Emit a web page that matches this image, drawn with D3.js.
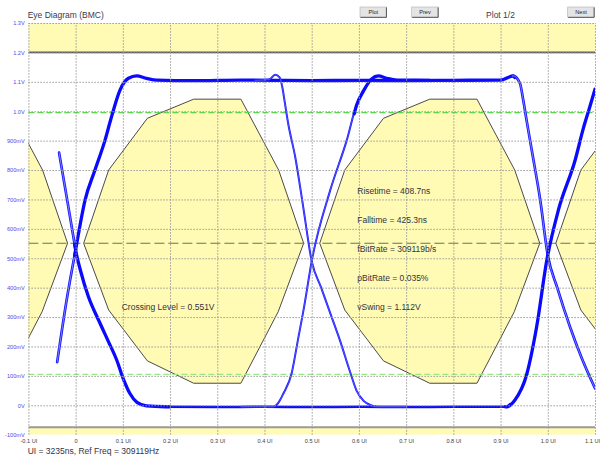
<!DOCTYPE html>
<html><head><meta charset="utf-8">
<script src="https://cdn.jsdelivr.net/npm/d3@7"></script>
<style>
html,body{margin:0;padding:0;background:#fff;}
svg{display:block;font-family:"Liberation Sans",Arial,sans-serif;}
</style></head>
<body><svg id="c" width="600" height="457"></svg>
<script>
// ---------- data ----------
const xTickValues = [-0.1,0,0.1,0.2,0.3,0.4,0.5,0.6,0.7,0.8,0.9,1.0,1.1];
const xTickLabels = ["-0.1 UI","0","0.1 UI","0.2 UI","0.3 UI","0.4 UI","0.5 UI","0.6 UI","0.7 UI","0.8 UI","0.9 UI","1.0 UI","1.1 UI"];
const yTickValues = [1.3,1.2,1.1,1.0,0.9,0.8,0.7,0.6,0.5,0.4,0.3,0.2,0.1,0,-0.1];
const yTickLabels = ["1.3V","1.2V","1.1V","1.0V","900mV","800mV","700mV","600mV","500mV","400mV","300mV","200mV","100mV","0V","-100mV"];

// eye mask template (UI offset within one half-UI eye, volts)
const eyeMaskTemplate = [[0.017,0.551],[0.070,0.80],[0.152,0.976],[0.25,1.041],[0.35,1.041],[0.43,0.80],[0.483,0.551],
                         [0.429,0.318],[0.35,0.075],[0.25,0.075],[0.152,0.151],[0.070,0.324]];
const eyeMaskOffsets = [-0.5, 0, 0.5, 1.0];
const upperLimitBand = [1.2, 1.3];
const lowerLimitBand = [-0.1, -0.075];
const level90 = 0.995;
const level10 = 0.105;
const crossingLevel = 0.551;

// waveform traces [UI, V]
const riseAt0 = [[-0.039,0.147],[-0.019,0.358],[0,0.528],[0.02,0.698],[0.041,0.80],[0.062,0.90],[0.075,0.975],[0.094,1.072],
  [0.112,1.112],[0.129,1.12],[0.15,1.112],[0.172,1.106],[0.25,1.104],[0.35,1.106],[0.42,1.105],[0.5,1.104],[0.6,1.105],
  [0.7,1.104],[0.8,1.105],[0.9,1.106],[0.927,1.12],[0.941,1.095],[0.948,1.038],[0.955,0.97],[0.966,0.868],[0.984,0.698],
  [1.0,0.51],[1.02,0.40],[1.047,0.267],[1.072,0.16],[1.1,0.058]];
const fallAt0 = [[-0.035,0.859],[-0.017,0.69],[0,0.528],[0.01,0.46],[0.027,0.37],[0.05,0.285],[0.07,0.215],[0.087,0.154],
  [0.101,0.09],[0.115,0.04],[0.13,0.01],[0.15,-0.002],[0.19,-0.005],[0.3,-0.006],[0.4,-0.005],[0.5,-0.006],[0.6,-0.005],
  [0.7,-0.006],[0.8,-0.005],[0.913,-0.005],[0.9305,0.018],[0.955,0.103],[0.9764,0.267],[0.998,0.494],[1.0225,0.664],
  [1.058,0.834],[1.075,0.94],[1.09,1.02],[1.1,1.075]];
const fallAt05 = [[0.38,1.105],[0.41,1.108],[0.4226,1.124],[0.432,1.115],[0.438,1.08],[0.443,1.03],[0.45,0.96],[0.465,0.845],
  [0.482,0.675],[0.5,0.49],[0.52,0.40],[0.54,0.31],[0.56,0.22],[0.58,0.12],[0.595,0.05],[0.61,0.015],[0.625,0.0],[0.64,-0.005],[0.7,-0.005]];
const riseAt05 = [[0.35,-0.005],[0.4186,-0.005],[0.43,0.01],[0.44,0.04],[0.4576,0.109],[0.47,0.215],[0.485,0.345],[0.5,0.49],
  [0.539,0.73],[0.574,0.90],[0.595,1.02],[0.61,1.07],[0.627,1.11],[0.641,1.12],[0.659,1.112],[0.68,1.106],[0.75,1.105]];

const statsText = ["Risetime = 408.7ns","Falltime = 425.3ns","fBitRate = 309119b/s","pBitRate = 0.035%","vSwing = 1.112V"];
const crossingText = "Crossing Level = 0.551V";
const titleText = "Eye Diagram (BMC)";
const pageText = "Plot 1/2";
const footerText = "UI = 3235ns, Ref Freq = 309119Hz";
const buttonLabels = ["Plot","Prev","Next"];

// ---------- drawing ----------
const svg = d3.select("#c");
const X0 = 28.4, X1 = 595, Y0 = 23, Y1 = 434.7;
const x = d3.scaleLinear().domain([-0.1,1.1]).range([X0,X1]);
const y = d3.scaleLinear().domain([-0.1,1.3]).range([Y1,Y0]);
const YELLOW = "#fffab4";

svg.append("defs").append("clipPath").attr("id","pc")
  .append("rect").attr("x",X0).attr("y",Y0).attr("width",X1-X0).attr("height",Y1-Y0);
const plot = svg.append("g").attr("clip-path","url(#pc)");

// limit bands
plot.append("rect").attr("x",X0).attr("width",X1-X0)
  .attr("y",y(upperLimitBand[1])).attr("height",y(upperLimitBand[0])-y(upperLimitBand[1])).attr("fill",YELLOW);
plot.append("rect").attr("x",X0).attr("width",X1-X0)
  .attr("y",y(lowerLimitBand[1])).attr("height",y(lowerLimitBand[0])-y(lowerLimitBand[1])).attr("fill",YELLOW);

// eye masks
const maskLine = d3.line().x(d=>x(d[0])).y(d=>y(d[1])).curve(d3.curveLinearClosed);
eyeMaskOffsets.forEach(o=>{
  plot.append("path").attr("d",maskLine(eyeMaskTemplate.map(p=>[p[0]+o,p[1]])))
    .attr("fill",YELLOW).attr("stroke","#4a4a4a").attr("stroke-width",1);
});

// grid
const gridStyle = g=>{g.select(".domain").remove();
  g.selectAll("line").attr("stroke","#9a9a9a").attr("stroke-width",1).attr("stroke-dasharray","1.5,1.5");};
svg.append("g").attr("transform",`translate(0,${Y1})`)
  .call(d3.axisBottom(x).tickValues(xTickValues).tickSize(-(Y1-Y0)).tickFormat(""))
  .call(gridStyle);
svg.append("g").attr("transform",`translate(${X0},0)`)
  .call(d3.axisLeft(y).tickValues(yTickValues.filter(v=>v>-0.1)).tickSize(-(X1-X0)).tickFormat(""))
  .call(gridStyle);

// limit lines
plot.append("line").attr("x1",X0).attr("x2",X1).attr("y1",y(upperLimitBand[0])).attr("y2",y(upperLimitBand[0]))
  .attr("stroke","#5a5a5a").attr("stroke-width",1.6);
plot.append("line").attr("x1",X0).attr("x2",X1).attr("y1",y(lowerLimitBand[1])).attr("y2",y(lowerLimitBand[1]))
  .attr("stroke","#9a9a9a").attr("stroke-width",2);

// level lines
plot.append("line").attr("x1",X0).attr("x2",X1).attr("y1",y(level90)).attr("y2",y(level90))
  .attr("stroke","#55dd44").attr("stroke-width",1.2).attr("stroke-dasharray","6,3");
plot.append("line").attr("x1",X0).attr("x2",X1).attr("y1",y(level10)).attr("y2",y(level10))
  .attr("stroke","#99e888").attr("stroke-width",1.4).attr("stroke-dasharray","6,3");
plot.append("line").attr("x1",X0).attr("x2",X1).attr("y1",y(crossingLevel)).attr("y2",y(crossingLevel))
  .attr("stroke","#5d7a55").attr("stroke-width",1).attr("stroke-dasharray","10,4");

// traces
function sliceTrace(data,a,b){
  const interp=t=>{for(let i=1;i<data.length;i++){if(data[i-1][0]<=t&&data[i][0]>=t){
    const f=(t-data[i-1][0])/(data[i][0]-data[i-1][0]);return [t,data[i-1][1]+f*(data[i][1]-data[i-1][1])];}}return null;};
  const out=data.filter(d=>d[0]>a&&d[0]<b);
  const s=interp(a), e=interp(b);
  if(s) out.unshift(s); if(e) out.push(e);
  return out;
}
const tl = d3.line().x(d=>x(d[0])).y(d=>y(d[1])).curve(d3.curveMonotoneX);
const styles = {
  thick:[{c:"#0a0aff",w:3.3}],
  med:[{c:"#0a0aff",w:2.5}],
  dbl:[{c:"#1414ff",w:2.7},{c:"#9a9aff",w:0.8}],
  thin:[{c:"#1a1aff",w:2.0},{c:"#8080ff",w:0.5}]
};
const traceSegments = [
  [riseAt0,-0.05,0.0,"dbl"],[riseAt0,-0.002,0.93,"thick"],[riseAt0,0.925,1.11,"dbl"],
  [fallAt0,-0.05,0.0,"dbl"],[fallAt0,-0.002,0.2,"thick"],[fallAt0,0.19,0.92,"med"],[fallAt0,0.91,1.11,"thick"],
  [fallAt05,0.38,0.7,"thin"],
  [riseAt05,0.35,0.6,"thin"],[riseAt05,0.59,0.75,"thick"]
];
traceSegments.forEach(([data,a,b,st])=>{
  const seg=sliceTrace(data,a,b);
  styles[st].forEach(s=>{
    plot.append("path").attr("d",tl(seg)).attr("fill","none").attr("stroke",s.c)
      .attr("stroke-width",s.w).attr("stroke-linejoin","round").attr("stroke-linecap","round");
  });
});

// axis labels
svg.append("g").attr("transform",`translate(${X0},0)`)
  .call(d3.axisLeft(y).tickValues(yTickValues).tickSize(0).tickPadding(3.7).tickFormat((d,i)=>yTickLabels[i]))
  .call(g=>{g.select(".domain").remove();
    g.selectAll("text").attr("font-size","5.6px").attr("fill","#4b4bef").attr("font-family","Liberation Sans, Arial, sans-serif");});
svg.append("g").attr("transform",`translate(0,${Y1})`)
  .call(d3.axisBottom(x).tickValues(xTickValues).tickSize(0).tickPadding(4).tickFormat((d,i)=>xTickLabels[i]))
  .call(g=>{g.select(".domain").remove();
    g.selectAll("text").attr("font-size","5.6px").attr("fill","#3a3a3a").attr("font-family","Liberation Sans, Arial, sans-serif");
    // keep the last label inside the page
    g.selectAll(".tick").filter(d=>d===xTickValues[xTickValues.length-1]).select("text")
      .attr("text-anchor","end").attr("x",599.5-x(xTickValues[xTickValues.length-1]));});

// texts
const tcol="#33333d";
svg.append("text").attr("x",27.7).attr("y",15).attr("dy","0.35em").attr("font-size","8.5px").attr("fill","#3a3a4a").text(titleText);
svg.append("text").attr("x",500.5).attr("y",15).attr("dy","0.35em").attr("text-anchor","middle").attr("font-size","8.5px").attr("fill","#3a3a4a").text(pageText);
svg.append("text").attr("x",27.7).attr("y",450.7).attr("dy","0.35em").attr("font-size","8.5px").attr("fill",tcol).text(footerText);
svg.append("text").attr("x",121.7).attr("y",307.5).attr("dy","0.35em").attr("font-size","8.5px").attr("fill",tcol).text(crossingText);
svg.selectAll(".stat").data(statsText).enter().append("text")
  .attr("x",357.3).attr("y",(d,i)=>190.7+i*29.15).attr("dy","0.35em").attr("font-size","8.5px").attr("fill",tcol).text(d=>d);

// buttons
const btnX = [360,411.7,567.7];
buttonLabels.forEach((lab,i)=>{
  const g=svg.append("g").attr("transform",`translate(${btnX[i]},7)`);
  g.append("rect").attr("width",26.7).attr("height",10.6).attr("fill","#e4e4e4").attr("stroke","#b0b0b0").attr("stroke-width",0.6);
  g.append("path").attr("d","M0.5,10.3 H26.4 V0.5").attr("fill","none").attr("stroke","#555").attr("stroke-width",1);
  g.append("text").attr("x",13.3).attr("y",5.3).attr("dy","0.35em").attr("text-anchor","middle")
    .attr("font-size","5.6px").attr("fill","#222").text(lab);
});
</script></body></html>
